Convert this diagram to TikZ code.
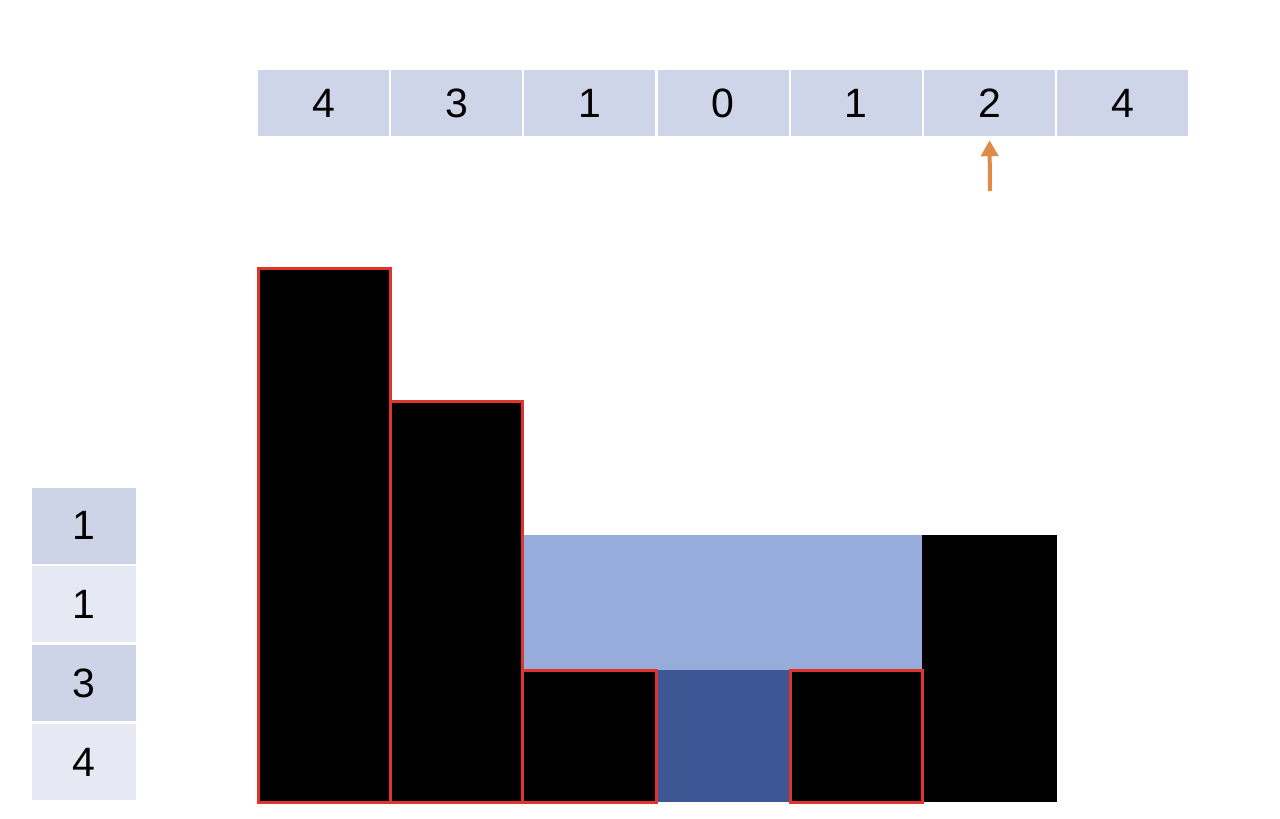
\documentclass[tikz,border=0pt]{standalone}
\usepackage{fontspec}
\setmainfont{Liberation Sans}
\usetikzlibrary{arrows.meta}
\definecolor{cellblue}{HTML}{CED5E8}
\definecolor{stackdark}{HTML}{CDD4E8}
\definecolor{stacklight}{HTML}{E6E9F3}
\definecolor{water}{HTML}{97ACDA}
\definecolor{deepwater}{HTML}{3C5794}
\definecolor{barred}{HTML}{E0352C}
\definecolor{arroworange}{HTML}{E08A47}
\tikzset{
  topcell/.style={fill=cellblue, draw=none, inner sep=0pt, minimum width=131pt, minimum height=66pt, font=\fontsize{41}{48}\selectfont},
  stackcell/.style={draw=none, inner sep=0pt, minimum width=104pt, minimum height=76pt, font=\fontsize{41}{48}\selectfont},
  redbar/.style={fill=black, draw=barred, line width=3pt},
  pointer/.style={draw=arroworange, line width=4pt, -{Triangle[width=17pt,length=16pt]}}
}
\begin{document}
\begin{tikzpicture}[x=1pt,y=-1pt]
\useasboundingbox (0,0) rectangle (1280,819);
\fill[white] (0,0) rectangle (1280,819);
% top array
\foreach \v [count=\i from 0] in {4,3,1,0,1,2,4} {
  \node[topcell] (c\i) at ({258+65.5+\i*133.2},103) {\v};
}
% left stack
\node[stackcell, fill=stackdark]  (s0) at (84,525.5) {1};
\node[stackcell, fill=stacklight] (s1) at (84,604) {1};
\node[stackcell, fill=stackdark]  (s2) at (84,683) {3};
\node[stackcell, fill=stacklight] (s3) at (84,762) {4};
% water
\fill[water] (522,535) rectangle (922,670);
\fill[deepwater] (656,670) rectangle (790,802);
% bars
\fill[black] (922,535) rectangle (1057,802);
\draw[redbar] (258,268) rectangle (390,802);
\draw[redbar] (390,401) rectangle (522,802);
\draw[redbar] (522,670) rectangle (656,802);
\draw[redbar] (790,670) rectangle (922,802);
% pointer
\coordinate (ptail) at (990,191);
\draw[pointer, shorten >=4pt] (ptail) -- (c5.south);
\end{tikzpicture}
\end{document}
